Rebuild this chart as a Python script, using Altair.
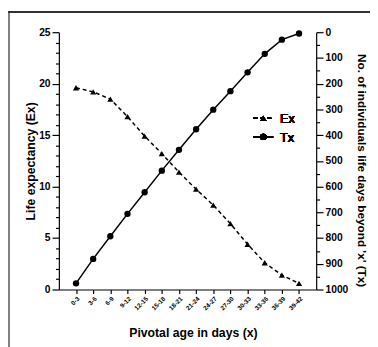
import altair as alt
import pandas as pd

ages = ["0-3", "3-6", "6-9", "9-12", "12-15", "15-18", "18-21", "21-24",
        "24-27", "27-30", "30-33", "33-36", "36-39", "39-42"]
ex_values = [19.6, 19.2, 18.5, 16.8, 14.9, 13.2, 11.4, 9.75, 8.2, 6.4, 4.4, 2.6, 1.4, 0.6]
tx_values = [976, 881, 793, 706, 622, 538, 457, 377, 301, 229, 156, 84, 29, 5]

df = pd.DataFrame({"age": ages, "Ex": ex_values, "Tx": tx_values})

FONT = "Liberation Sans"
W, H = 263, 263

x_enc = alt.X("age:N", sort=ages,
              scale=alt.Scale(type="point", padding=1),
              axis=alt.Axis(title="Pivotal age in days (x)", labelAngle=-45,
                            labelFontSize=6.5, labelFontWeight="bold",
                            titleFontSize=12.5, titleFontWeight="bold",
                            titlePadding=16, titleX=137, titleAlign="center",
                            tickSize=4, labelPadding=2,
                            labelOverlap=False))

ex_scale = alt.Scale(domain=[0, 25], nice=False)
tx_scale = alt.Scale(domain=[0, 1000], reverse=True, nice=False)

ex_axis = alt.Axis(title="Life expectancy (Ex)", orient="left", values=list(range(0, 26, 5)),
                   tickSize=7, labelFontSize=10.5, labelFontWeight="bold", labelPadding=2,
                   titleFontSize=12.5, titleFontWeight="bold",
                   titleX=-29, titleBaseline="middle", titleAlign="center",
                   titleAngle=270,
                   labelOverlap=False, grid=False)
ex_minor_axis = alt.Axis(title=None, orient="left",
                         values=[v for v in range(0, 26) if v % 5 != 0],
                         tickSize=3.5, labels=False, domain=False, grid=False)

tx_axis = alt.Axis(title="No. of individuals life days beyond 'x' (Tx)", orient="right",
                   values=list(range(0, 1001, 100)), format="d",
                   tickSize=7, labelFontSize=10.5, labelFontWeight="bold", labelPadding=2,
                   titleFontSize=12, titleFontWeight="bold",
                   titleX=46, titleY=141, titleBaseline="middle", titleAlign="center",
                   titleAngle=90,
                   labelOverlap=False, grid=False)
tx_minor_axis = alt.Axis(title=None, orient="right",
                         values=list(range(50, 1000, 100)),
                         tickSize=3.5, labels=False, domain=False, grid=False)

base = alt.Chart(df)

ex_line = base.mark_line(color="black", strokeWidth=1.5, strokeDash=[4, 3]).encode(
    x=x_enc, y=alt.Y("Ex:Q", scale=ex_scale, axis=ex_axis))
ex_pts = base.mark_point(shape="triangle-up", filled=True, color="black", size=40, opacity=1).encode(
    x=x_enc, y=alt.Y("Ex:Q", scale=ex_scale, axis=ex_minor_axis))
ex_layer = alt.layer(ex_line, ex_pts).resolve_axis(y="independent")

tx_line = base.mark_line(color="black", strokeWidth=1.5).encode(
    x=x_enc, y=alt.Y("Tx:Q", scale=tx_scale, axis=tx_axis))
tx_pts = base.mark_point(shape="circle", filled=True, color="black", size=42, opacity=1).encode(
    x=x_enc, y=alt.Y("Tx:Q", scale=tx_scale, axis=tx_minor_axis))
tx_layer = alt.layer(tx_line, tx_pts).resolve_axis(y="independent")

# legend
legend_names = ["Ex", "Tx"]
leg_ex_line = alt.Chart(df).mark_rule(color="black", strokeWidth=1.5, strokeDash=[4, 3]).encode(
    x=alt.value(199), x2=alt.value(219), y=alt.value(88))
leg_ex_pt = alt.Chart(df).mark_point(shape="triangle-up", filled=True, color="black", size=40, opacity=1).encode(
    x=alt.value(209), y=alt.value(88))
leg_ex_txt = alt.Chart(df).mark_text(text=legend_names[0], align="left", baseline="middle",
                                     fontSize=13, font=FONT, fontWeight="normal", color="black").encode(
    x=alt.value(226), y=alt.value(89))
leg_tx_line = alt.Chart(df).mark_rule(color="black", strokeWidth=1.5).encode(
    x=alt.value(199), x2=alt.value(219), y=alt.value(107))
leg_tx_pt = alt.Chart(df).mark_point(shape="circle", filled=True, color="black", size=42, opacity=1).encode(
    x=alt.value(209), y=alt.value(107))
leg_tx_txt = alt.Chart(df).mark_text(text=legend_names[1], align="left", baseline="middle",
                                     fontSize=13, font=FONT, fontWeight="normal", color="black").encode(
    x=alt.value(226), y=alt.value(108))

# outer frame fragments
frame_left = alt.Chart(df).mark_rule(color="#808080", strokeWidth=1.5).encode(
    x=alt.value(-51.2), y=alt.value(-21), y2=alt.value(330))
frame_top = alt.Chart(df).mark_rule(color="#333333", strokeWidth=1).encode(
    x=alt.value(-52), x2=alt.value(330), y=alt.value(-20.5))

chart = alt.layer(
    ex_layer, tx_layer,
    leg_ex_line, leg_ex_pt, leg_ex_txt, leg_tx_line, leg_tx_pt, leg_tx_txt,
    frame_left, frame_top,
).resolve_scale(y="independent").resolve_axis(y="independent").properties(
    width=W, height=H,
    autosize=alt.AutoSizeParams(type="none"),
    padding={"left": 52, "top": 21, "right": 55, "bottom": 55},
    background="white",
).configure_view(stroke=None).configure_axis(
    labelFont=FONT, titleFont=FONT, labelColor="black", titleColor="black",
    domainColor="black", tickColor="black", domainWidth=1.2, tickWidth=1.2,
)

chart.save("out.html", embed_options={"renderer": "svg", "actions": False})
